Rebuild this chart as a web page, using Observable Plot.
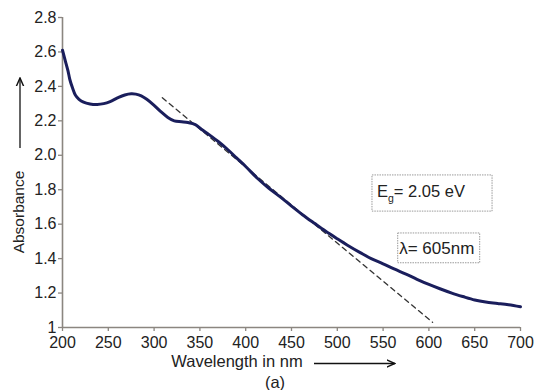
<!DOCTYPE html>
<html>
<head>
<meta charset="utf-8">
<script src="https://cdn.jsdelivr.net/npm/d3@7"></script>
<script src="https://cdn.jsdelivr.net/npm/@observablehq/plot@0.6"></script>
<style>
  html, body { margin: 0; padding: 0; background: #fff; }
  #chart { width: 537px; height: 390px; }
  svg { font-family: "Liberation Sans", Arial, sans-serif; }
</style>
</head>
<body>
<div id="chart"></div>
<script>
const wavelength = [200,203,206,208,211,214,218,223,230,238,245,252,260,268,275,280,286,292,300,307,315,322,330,337,345,352,360,370,380,390,400,413,425,438,450,462,475,487,500,512,525,537,550,562,575,587,600,612,625,637,650,662,675,687,700];
const absorbance = [2.61,2.55,2.49,2.44,2.39,2.35,2.325,2.308,2.298,2.295,2.3,2.312,2.333,2.35,2.357,2.355,2.345,2.325,2.29,2.255,2.22,2.2,2.195,2.19,2.178,2.15,2.12,2.08,2.035,1.985,1.935,1.865,1.81,1.757,1.705,1.655,1.605,1.56,1.515,1.475,1.435,1.4,1.37,1.34,1.31,1.28,1.25,1.225,1.2,1.18,1.16,1.148,1.14,1.132,1.12];

const tangentX = [309, 604];
const tangentY = [2.334, 1.03];

const xTicks = [200,250,300,350,400,450,500,550,600,650,700];
const yTicks = [1,1.2,1.4,1.6,1.8,2.0,2.2,2.4,2.6,2.8];

// annotation boxes (data units)
const boxLabels = ["Eg", "λ= 605nm"];
const boxX1 = [538.4, 566.5];
const boxX2 = [669.5, 656.0];
const boxY1 = [1.673, 1.373];
const boxY2 = [1.883, 1.546];

const data = wavelength.map((w, i) => ({w, a: absorbance[i]}));
const tangent = tangentX.map((x, i) => ({x, y: tangentY[i]}));
const boxes = boxLabels.map((t, i) => ({t, x1: boxX1[i], x2: boxX2[i], y1: boxY1[i], y2: boxY2[i]}));

const axisColor = "#8b8680";
const textColor = "#222";
const fmtY = d => d === 1 ? "1" : d.toFixed(1);

const plot = Plot.plot({
  width: 537,
  height: 390,
  marginLeft: 62,
  marginRight: 17,
  marginTop: 17,
  marginBottom: 63,
  style: {fontFamily: '"Liberation Sans", Arial, sans-serif', fontSize: "16px", color: textColor, background: "#fff"},
  x: {domain: [200, 700], label: null},
  y: {domain: [1, 2.8], label: null},
  marks: [
    Plot.axisX({ticks: xTicks, tickSize: 4, tickPadding: 5, stroke: axisColor, strokeWidth: 1.3, color: textColor, fontSize: 16, label: null, tickFormat: d => String(d)}),
    Plot.axisY({ticks: yTicks, tickSize: 4, tickPadding: 2, stroke: axisColor, strokeWidth: 1.3, color: textColor, fontSize: 16, label: null, tickFormat: fmtY}),
    Plot.ruleX([200], {stroke: axisColor, strokeWidth: 1.6}),
    Plot.ruleY([1], {stroke: axisColor, strokeWidth: 1.6}),
    Plot.rect(boxes, {x1: "x1", x2: "x2", y1: "y1", y2: "y2", fill: "#fff", stroke: "#9a9a9a", strokeWidth: 1, strokeDasharray: "1.5,1"}),
    Plot.line(tangent, {x: "x", y: "y", stroke: "#333", strokeWidth: 1.3, strokeDasharray: "5,4"}),
    Plot.line(data, {x: "w", y: "a", stroke: "#1a1e5c", strokeWidth: 3, curve: "catmull-rom"}),
    Plot.text(boxes.slice(1), {x: "x1", y: d => (d.y1 + d.y2) / 2, text: "t", textAnchor: "start", dx: 1, fontSize: 17, fill: textColor})
  ]
});

document.getElementById("chart").appendChild(plot);

const svg = d3.select(plot);
const xs = plot.scale("x"), ys = plot.scale("y");

// Eg label with subscript
const b0 = boxes[0];
const eg = svg.append("text")
  .attr("x", xs.apply(b0.x1) + 5)
  .attr("y", ys.apply((b0.y1 + b0.y2) / 2) - 1)
  .attr("dy", "0.32em")
  .attr("text-anchor", "start")
  .attr("fill", textColor)
  .attr("font-size", 16.5);
eg.append("tspan").text("E");
eg.append("tspan").attr("font-size", 10.5).attr("dy", "5").text("g");
eg.append("tspan").attr("dy", "-5").text("= 2.05 eV");

// Arrow marker
const defs = svg.append("defs");
defs.append("marker")
  .attr("id", "ah").attr("viewBox", "0 0 10 10").attr("refX", 9).attr("refY", 5)
  .attr("markerWidth", 7).attr("markerHeight", 7).attr("orient", "auto-start-reverse")
  .append("path").attr("d", "M0,1 L9,5 L0,9").attr("fill", "none").attr("stroke", "#111").attr("stroke-width", 1.6);

// X axis title
svg.append("text").attr("x", 237).attr("y", 362).attr("dy", "0.32em").attr("text-anchor", "middle")
  .attr("font-size", 16.5).attr("fill", textColor).text("Wavelength in nm");
svg.append("line").attr("x1", 314).attr("x2", 395).attr("y1", 363.5).attr("y2", 363.5)
  .attr("stroke", "#111").attr("stroke-width", 1.3).attr("marker-end", "url(#ah)");
svg.append("text").attr("x", 275).attr("y", 383).attr("dy", "0.32em").attr("text-anchor", "middle")
  .attr("font-size", 16.5).attr("fill", textColor).text("(a)");

// Y axis title
svg.append("text").attr("transform", "translate(19,212) rotate(-90)").attr("dy", "0.32em").attr("text-anchor", "middle")
  .attr("font-size", 15.5).attr("fill", textColor).text("Absorbance");
svg.append("line").attr("x1", 20).attr("x2", 20).attr("y1", 148).attr("y2", 78)
  .attr("stroke", "#111").attr("stroke-width", 1.3).attr("marker-end", "url(#ah)");
</script>
</body>
</html>
